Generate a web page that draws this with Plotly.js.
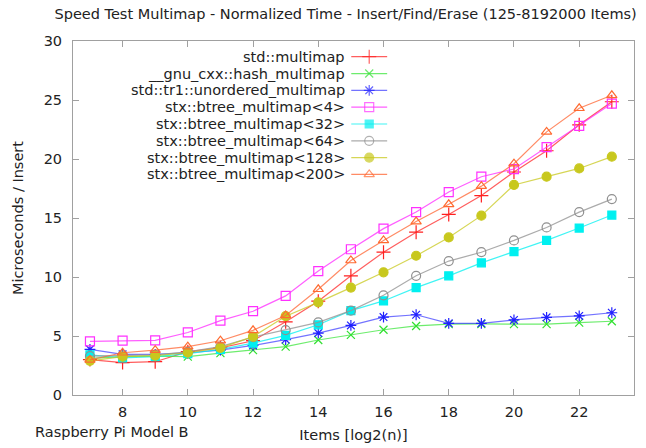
<!DOCTYPE html>
<html>
<head>
<meta charset="utf-8">
<script src="https://cdn.plot.ly/plotly-3.0.1.min.js"></script>
<style>html,body{margin:0;padding:0;background:#fff;}#chart{width:646px;height:448px;}</style>
</head>
<body>
<div id="chart"></div>
<script>
const items = [7, 8, 9, 10, 11, 12, 13, 14, 15, 16, 17, 18, 19, 20, 21, 22, 23];

const seriesNames = [
  "std::multimap",
  "__gnu_cxx::hash_multimap",
  "std::tr1::unordered_multimap",
  "stx::btree_multimap<4>",
  "stx::btree_multimap<32>",
  "stx::btree_multimap<64>",
  "stx::btree_multimap<128>",
  "stx::btree_multimap<200>"
];

const stdMultimap   = [3.0, 2.75, 2.82, 3.67, 4.0, 4.6, 6.2, 7.95, 10.1, 12.1, 13.8, 15.3, 16.9, 18.9, 20.7, 22.9, 24.85];
const gnuHash       = [3.1, 3.25, 3.3, 3.25, 3.55, 3.8, 4.1, 4.66, 5.1, 5.53, 5.85, 6.0, 6.02, 6.0, 6.0, 6.13, 6.25];
const tr1Unordered  = [3.87, 3.45, 3.45, 3.58, 3.8, 4.2, 4.7, 5.25, 5.9, 6.6, 6.8, 6.07, 6.07, 6.36, 6.58, 6.7, 6.97];
const btree4        = [4.55, 4.6, 4.63, 5.3, 6.3, 7.1, 8.4, 10.5, 12.35, 14.1, 15.5, 17.2, 18.5, 19.15, 21.0, 22.8, 24.7];
const btree32       = [3.4, 3.15, 3.25, 3.5, 3.87, 4.4, 5.05, 5.95, 7.15, 7.97, 9.1, 10.1, 11.2, 12.15, 13.1, 14.15, 15.25];
const btree64       = [3.3, 3.35, 3.4, 3.65, 4.1, 4.9, 5.5, 6.15, 7.15, 8.45, 10.1, 11.35, 12.1, 13.1, 14.2, 15.5, 16.6];
const btree128      = [2.9, 3.25, 3.33, 3.58, 4.0, 4.95, 6.68, 7.85, 9.1, 10.4, 11.8, 13.35, 15.2, 17.8, 18.5, 19.2, 20.2];
const btree200      = [2.97, 3.58, 3.8, 4.1, 4.6, 5.48, 6.74, 8.96, 11.4, 13.1, 14.7, 16.16, 17.7, 19.6, 22.3, 24.3, 25.4];

const xTicks = [8, 10, 12, 14, 16, 18, 20, 22];
const yTicks = [0, 5, 10, 15, 20, 25, 30];

const allSeries = [stdMultimap, gnuHash, tr1Unordered, btree4, btree32, btree64, btree128, btree200];

const styles = [
  {line: "rgba(255,40,40,0.75)",  marker: "#ff2020", symbol: "cross-thin-open", size: 10},
  {line: "rgba(60,230,60,0.75)",  marker: "#30e030", symbol: "x-thin-open", size: 8},
  {line: "rgba(40,40,255,0.65)",  marker: "#2020ff", symbol: "asterisk-open", size: 9},
  {line: "rgba(255,40,255,0.75)", marker: "#ff30ff", symbol: "square-open", size: 9},
  {line: "rgba(0,240,240,0.75)",  marker: "#00f0f0", symbol: "square", size: 8},
  {line: "rgba(150,150,150,0.8)", marker: "#909090", symbol: "circle-open", size: 9},
  {line: "rgba(200,200,30,0.75)", marker: "#c8c81e", symbol: "circle", size: 9},
  {line: "rgba(255,100,50,0.75)", marker: "#ff6a30", symbol: "triangle-up-open", size: 9}
];

const font = "DejaVu Sans, Verdana, sans-serif";
const fs = 14.5;
const txt = "#222";
const axisColor = "#a0a0a0";

const traces = allSeries.map((ys, i) => ({
  type: "scatter",
  mode: "lines+markers",
  name: seriesNames[i],
  x: items,
  y: ys,
  showlegend: false,
  line: {color: styles[i].line, width: 1.2},
  marker: {
    color: styles[i].marker,
    symbol: styles[i].symbol,
    size: styles[i].size,
    line: {color: styles[i].marker, width: 1.2}
  }
}));

// gnuplot-style key: right-aligned names with a sample to their right
const keyTextX = 0.489, keySampleX = [0.496, 0.528, 0.56];
const keyTop = 0.9556, keyStep = 0.0475;
const keyAnnotations = [];
seriesNames.forEach((name, i) => {
  const yr = keyTop - i * keyStep;
  traces.push({
    type: "scatter",
    mode: "lines+markers",
    xaxis: "x2", yaxis: "y2",
    x: keySampleX,
    y: keySampleX.map(() => yr),
    showlegend: false,
    hoverinfo: "skip",
    line: {color: styles[i].line, width: 1.2},
    marker: {
      color: styles[i].marker,
      symbol: styles[i].symbol,
      size: [0, styles[i].size, 0],
      line: {color: styles[i].marker, width: 1.2}
    }
  });
  keyAnnotations.push({
    text: name.replace(/</g, "&lt;").replace(/>/g, "&gt;"),
    xref: "paper", yref: "paper",
    x: keyTextX, y: yr,
    xanchor: "right", yanchor: "middle",
    showarrow: false,
    font: {family: font, size: fs, color: txt}
  });
});

const layout = {
  width: 646,
  height: 448,
  margin: {l: 73, r: 12, t: 41, b: 53},
  paper_bgcolor: "#ffffff",
  plot_bgcolor: "#ffffff",
  font: {family: font, size: fs, color: txt},
  title: {
    text: "Speed Test Multimap - Normalized Time - Insert/Find/Erase (125-8192000 Items)",
    font: {family: font, size: fs, color: txt},
    xref: "container", x: 0.535, xanchor: "center",
    yref: "container", y: 0.968, yanchor: "middle"
  },
  xaxis: {
    range: [6.48, 23.68],
    tickvals: xTicks,
    ticktext: xTicks.map(String),
    ticks: "inside",
    ticklen: 6,
    tickcolor: axisColor,
    showline: true,
    linecolor: axisColor,
    linewidth: 1,
    mirror: "ticks",
    showgrid: false,
    zeroline: false,
    ticklabelstandoff: 4,
    tickfont: {family: font, size: fs, color: txt},
    title: {text: "Items [log2(n)]", font: {family: font, size: fs, color: txt}, standoff: 10}
  },
  yaxis: {
    range: [0, 30],
    tickvals: yTicks,
    ticktext: yTicks.map(String),
    ticks: "inside",
    ticklen: 6,
    tickcolor: axisColor,
    showline: true,
    linecolor: axisColor,
    linewidth: 1,
    mirror: "ticks",
    showgrid: false,
    zeroline: false,
    ticklabelstandoff: 7,
    tickfont: {family: font, size: fs, color: txt},
    title: {text: "Microseconds / Insert", font: {family: font, size: fs, color: txt}, standoff: 16}
  },
  xaxis2: {overlaying: "x", anchor: "y2", range: [0, 1], visible: false, fixedrange: true},
  yaxis2: {overlaying: "y", anchor: "x2", range: [0, 1], visible: false, fixedrange: true},
  showlegend: false,
  annotations: keyAnnotations.concat([
    {
      text: "Raspberry Pi Model B",
      xref: "paper", yref: "paper",
      x: -0.071, y: -0.105,
      xanchor: "left", yanchor: "middle",
      showarrow: false,
      font: {family: font, size: fs, color: txt}
    }
  ])
};

Plotly.newPlot("chart", traces, layout, {displayModeBar: false, staticPlot: true});
</script>
</body>
</html>
